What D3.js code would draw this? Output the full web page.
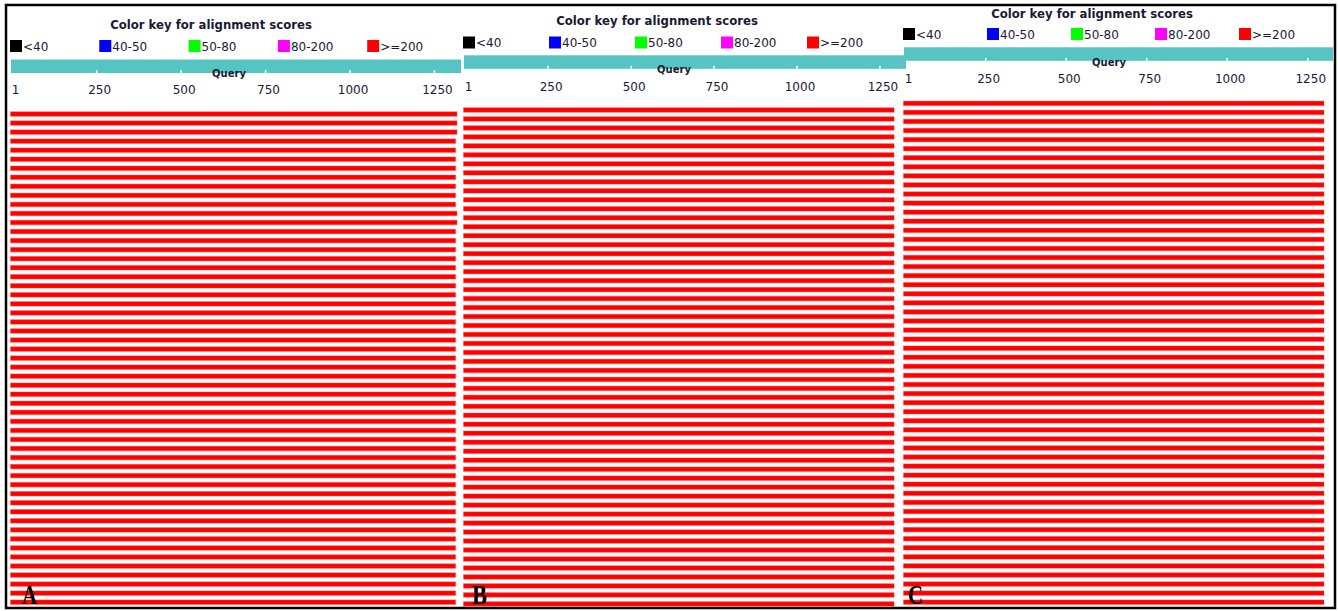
<!DOCTYPE html>
<html lang="en">
<head>
  <meta charset="UTF-8">
  <title>BLAST alignment graphics A B C</title>
  <script src="https://d3js.org/d3.v7.min.js"></script>
  <style>
    body { margin: 0; background: #fff; }
    text { font-family: "DejaVu Sans", sans-serif; fill: #1a1a33; }
  </style>
</head>
<body>
  <svg width="1338" height="611"></svg>

  <script>
    // data
    const queryLength = 1330;
    const tickValues = [1, 250, 500, 750, 1000, 1250];
    const legendLabels = ["<40", "40-50", "50-80", "80-200", ">=200"];
    const legendColors = ["#000000", "#0000ff", "#00ff00", "#ff00ff", "#ff0000"];
    const panelLabels = ["A", "B", "C"];

    // hit end positions (all hits start at 1, all scores >=200)
    const hitEndsA = [1318, 1318, 1318, 1314, 1314, 1314, 1314, 1314, 1314, 1314, 1314, 1318, 1318,
      1314, 1314, 1314, 1314, 1314, 1314, 1314, 1314, 1314, 1314, 1314, 1314, 1314, 1314, 1314,
      1314, 1314, 1314, 1314, 1314, 1314, 1314, 1314, 1314, 1314, 1314, 1314, 1314, 1314, 1314,
      1314, 1314, 1314, 1314, 1314, 1314, 1314, 1314, 1314, 1314, 1314, 1314];
    const hitEndsB = [1294, 1294, 1294, 1294, 1294, 1294, 1294, 1294, 1294, 1294, 1294, 1294, 1294, 1294,
      1294, 1294, 1294, 1294, 1294, 1294, 1294, 1294, 1294, 1294, 1294, 1294, 1294, 1294, 1294, 1294,
      1294, 1294, 1294, 1294, 1294, 1294, 1294, 1294, 1294, 1294, 1294, 1294, 1294, 1294, 1294, 1294,
      1294, 1294, 1294, 1294, 1294, 1294, 1294, 1294, 1294, 1294];
    const hitEndsC = [1302, 1302, 1302, 1302, 1302, 1302, 1302, 1302, 1302, 1302, 1302, 1302, 1302, 1302,
      1302, 1302, 1302, 1302, 1302, 1302, 1302, 1302, 1302, 1302, 1302, 1302, 1302, 1302, 1302, 1302,
      1302, 1302, 1302, 1302, 1302, 1302, 1302, 1302, 1302, 1302, 1302, 1302, 1302, 1302, 1302, 1302,
      1302, 1302, 1302, 1302, 1302, 1302, 1302, 1302, 1302, 1302];
    const hitScoreClass = 4; // ">=200"

    // where each panel sits on the page
    const layouts = [
      { x0: 12, x1: 461, title: [211, 29], legendX: 10, legendStep: 89.3, legendY: 40,
        barY: 59.5, queryX: 229, queryY: 76.5, tickY: 94.3, rowTop: 109.5, rowStep: 9.04, letterX: 22 },
      { x0: 465, x1: 906, title: [657, 25], legendX: 463, legendStep: 86, legendY: 36.5,
        barY: 55.3, queryX: 674, queryY: 72.7, tickY: 91, rowTop: 105.5, rowStep: 8.98, letterX: 472 },
      { x0: 905, x1: 1333, title: [1092, 17.5], legendX: 903, legendStep: 84, legendY: 28,
        barY: 47.3, queryX: 1109, queryY: 65.5, tickY: 83.3, rowTop: 98.8, rowStep: 9.07, letterX: 908 }
    ];

    const svg = d3.select("svg");

    function drawPanel(lay, hitEnds, label) {
      const g = svg.append("g");
      const x = d3.scaleLinear().domain([1, queryLength]).range([lay.x0, lay.x1]);

      // hits
      const y = d3.scaleBand()
        .domain(d3.range(hitEnds.length))
        .range([lay.rowTop, lay.rowTop + lay.rowStep * hitEnds.length]);
      g.selectAll("rect.hit")
        .data(hitEnds)
        .enter().append("rect")
        .attr("class", "hit")
        .attr("x", x(1) - 1.5)
        .attr("y", (d, i) => y(i) + (y.bandwidth() - 4.5) / 2)
        .attr("width", d => x(d) - x(1) + 1.5)
        .attr("height", 4.5)
        .attr("fill", legendColors[hitScoreClass])
        .attr("stroke", "rgba(255,60,60,0.35)")
        .attr("stroke-width", 1.2);

      // title and colour key
      g.append("text")
        .attr("x", lay.title[0]).attr("y", lay.title[1])
        .attr("text-anchor", "middle")
        .style("font-weight", "bold").style("font-size", "11.7px")
        .text("Color key for alignment scores");

      const key = g.selectAll("g.key")
        .data(legendLabels)
        .enter().append("g")
        .attr("class", "key")
        .attr("transform", (d, i) => "translate(" + (lay.legendX + i * lay.legendStep) + "," + lay.legendY + ")");
      key.append("rect")
        .attr("width", 12).attr("height", 12)
        .attr("fill", (d, i) => legendColors[i]);
      key.append("text")
        .attr("x", 13).attr("y", 10.5)
        .style("font-size", "12px")
        .text(d => d);

      // query bar
      g.append("rect")
        .attr("x", x(1) - 1).attr("y", lay.barY)
        .attr("width", x(queryLength) - x(1) + 1).attr("height", 13.5)
        .attr("fill", "#57c4c4");

      const axis = d3.axisBottom(x)
        .tickValues(tickValues)
        .tickFormat(d3.format("d"))
        .tickSizeInner(-3).tickSizeOuter(0);
      const ax = g.append("g")
        .attr("transform", "translate(0," + (lay.barY + 13.5) + ")")
        .call(axis);
      ax.select(".domain").remove();
      ax.selectAll(".tick line").attr("stroke", "#fff").attr("stroke-width", 1.5)
        .style("display", d => d === 1 ? "none" : null);
      ax.selectAll(".tick text")
        .attr("y", lay.tickY - lay.barY - 13.5).attr("dy", 0).attr("dx", 3)
        .style("font-size", "12px")
        .style("font-family", "'DejaVu Sans', sans-serif")
        .attr("fill", "#1a1a33");

      g.append("text")
        .attr("x", lay.queryX).attr("y", lay.queryY)
        .attr("text-anchor", "middle")
        .style("font-weight", "bold").style("font-size", "10px")
        .text("Query");

      // panel letter
      g.append("text")
        .attr("x", lay.letterX).attr("y", 604)
        .attr("textLength", 15).attr("lengthAdjust", "spacingAndGlyphs")
        .style("font-family", "'Liberation Serif', serif")
        .style("font-weight", "bold").style("font-size", "27px")
        .style("fill", "#000")
        .text(label);
    }

    drawPanel(layouts[0], hitEndsA, panelLabels[0]);
    drawPanel(layouts[1], hitEndsB, panelLabels[1]);
    drawPanel(layouts[2], hitEndsC, panelLabels[2]);

    // outer frame
    svg.append("rect")
      .attr("x", 6).attr("y", 5).attr("width", 1329).attr("height", 603)
      .attr("fill", "none").attr("stroke", "#000").attr("stroke-width", 2.5);
  </script>
</body>
</html>
